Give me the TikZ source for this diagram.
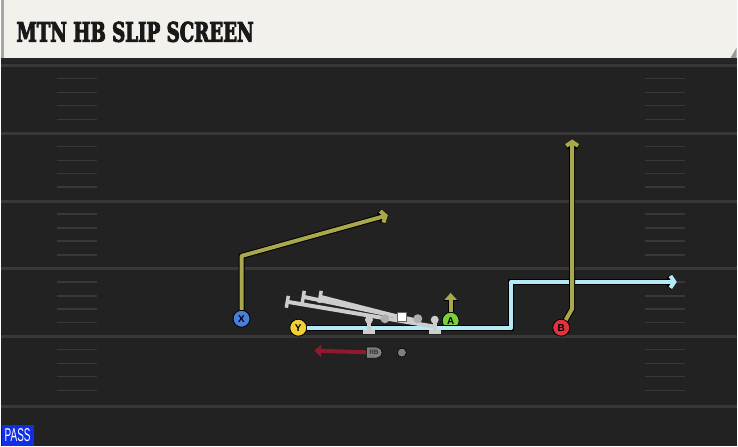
\documentclass[tikz,border=0pt]{standalone}
\usepackage{fontspec}
\usetikzlibrary{arrows.meta,shapes.misc}
\newfontfamily\titlefont[BoldFeatures={FakeBold=4}]{DejaVu Serif Condensed}
\newfontfamily\labelfont{Liberation Sans}
\definecolor{turf}{HTML}{222222}
\definecolor{chalk}{HTML}{383838}
\definecolor{banner}{HTML}{F3F1EB}
\definecolor{olive}{HTML}{A9A84C}
\definecolor{sky}{HTML}{B3EAF6}
\definecolor{maroon}{HTML}{8E1A2C}
\definecolor{xblue}{HTML}{4A7ED8}
\definecolor{ygold}{HTML}{F2CF36}
\definecolor{agreen}{HTML}{7ACF3E}
\definecolor{bred}{HTML}{E0333F}
\definecolor{line}{HTML}{CDCDCD}
\definecolor{passblue}{HTML}{0F2EE6}

\begin{document}
\begin{tikzpicture}[x=1pt,y=-1pt]
    \tikzstyle{player}=[circle,draw=black,line width=0.8pt,inner sep=0pt,minimum size=17pt,font=\labelfont\bfseries]
    \tikzstyle{route}=[line width=4pt,line join=round,-{Straight Barb[length=4pt,width=12pt,line width=4pt]},
        preaction={draw=black,line width=6pt,-{Straight Barb[length=4pt,width=12pt,line width=6pt]}}]
    \tikzstyle{block}=[line width=4pt,draw=line]
    \tikzstyle{hash}=[line width=1.5pt,draw=chalk]
    % field and banner
    \fill[turf] (0,58) rectangle (738,448);
    \fill[black!85] (0,58) rectangle (738,63);
    \fill[banner] (0,0) rectangle (738,58);
    \fill[black!35] (0,0) rectangle (3,58);
    \fill[black!40] (732,58) -- (738,48) -- (738,58) -- cycle;
    \node[anchor=west,text=black!90,inner sep=0pt] (title) at (15,32)
        {\resizebox{238pt}{20pt}{\titlefont\bfseries MTN HB SLIP SCREEN}};
    % yard lines and hashes
    \foreach \yl in {66,134,202,270,338,408}
        \draw[line width=3pt,chalk] (0,\yl) -- (738,\yl);
    \foreach \yl in {66,134,202,270,338}
        \foreach \dy in {13,27,40,54} {
            \draw[hash] (56,\yl+\dy) -- (96,\yl+\dy);
            \draw[hash] (646,\yl+\dy) -- (686,\yl+\dy);
        }
    % players
    \node[player,fill=xblue] (X) at (241,320) {X};
    \node[player,fill=ygold] (Y) at (298,329) {Y};
    \node[player,fill=agreen] (A) at (451,322) {A};
    \node[player,fill=bred] (B) at (562,329) {B};
    \node[rounded rectangle,rounded rectangle west arc=none,fill=black!50,draw=black,line width=0.6pt,inner sep=1pt,minimum width=18pt,minimum height=11pt,
        font=\labelfont\bfseries\fontsize{6.5}{6.5}\selectfont,text=black!80] (RB) at (374,354) {RB};
    \node[circle,fill=black!50,draw=black,line width=0.6pt,inner sep=0pt,minimum size=9pt] (QB) at (402,354) {};
    % routes
    \coordinate (Xbrk) at (241,257);
    \coordinate (Xend) at (388,216);
    \draw[route,olive] (X) -- (Xbrk) -- (Xend);
    \coordinate (Ybrk1) at (512,329);
    \coordinate (Ybrk2) at (512,283);
    \coordinate (Yend) at (678,283);
    \draw[route,sky] (Y) -- (Ybrk1) -- (Ybrk2) -- (Yend);
    \coordinate (Bbrk) at (573,310);
    \coordinate (Bend) at (573,140);
    \draw[route,olive] (B) -- (Bbrk) -- (Bend);
    \coordinate (Aend) at (451,294);
    \draw[line width=4pt,olive,-{Triangle[length=7pt,width=12pt]},
        preaction={draw=black,line width=6pt,-{Triangle[length=8pt,width=14pt]}}] (A) -- (Aend);
    \coordinate (RBend) at (314,352);
    \draw[line width=4pt,maroon,-{Triangle[length=7pt,width=12pt]}] (RB) -- (RBend);
    % offensive line and pass pro
    \coordinate (P1) at (287,303);
    \coordinate (P2) at (303,298);
    \coordinate (P3) at (320,298);
    \draw[block] (435,328) -- (P1);
    \draw[block] (418,322) -- (P2);
    \draw[block] (402,319) -- (P3);
    \foreach \p in {P1,P2,P3}
        \draw[block,line width=3.5pt] (\p) ++(1,-6) -- ++(-2,12);
    \foreach \x in {369,435} {
        \fill[line] (\x-6,331) rectangle (\x+6,335);
        \fill[line] (\x-2,322) rectangle (\x+2,332);
        \fill[line] (\x,321) circle (4pt);
    }
    \node[circle,fill=line!85!black,inner sep=0pt,minimum size=9pt] (LG) at (385,320) {};
    \node[fill=white,draw=black!60,line width=0.5pt,inner sep=0pt,minimum size=9pt] (C) at (402,318) {};
    \node[circle,fill=line!85!black,inner sep=0pt,minimum size=9pt] (RG) at (418,320) {};
    % play type tag
    \node[fill=passblue,text=white,anchor=south west,inner sep=0pt,minimum width=32pt,minimum height=21pt,
        font=\labelfont] (tag) at (0,448) {\resizebox{26pt}{13pt}{PASS}};
\end{tikzpicture}
\end{document}
